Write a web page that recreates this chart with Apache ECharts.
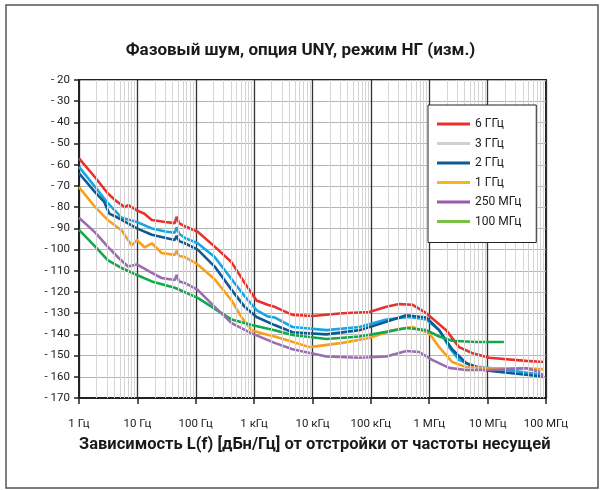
<!DOCTYPE html>
<html>
<head>
<meta charset="utf-8">
<script src="https://cdn.jsdelivr.net/npm/echarts@6/dist/echarts.min.js"></script>
<style>
html,body{margin:0;padding:0;background:#fff;}
#c{width:601px;height:490px;}
</style>
</head>
<body>
<div id="c"></div>
<script>
// ---- data (frequency in Hz, L(f) in dBc/Hz) ----
var seriesNames = ['6 ГГц', '3 ГГц', '2 ГГц', '1 ГГц', '250 МГц', '100 МГц'];
var xTickLabels = ['1 Гц', '10 Гц', '100 Гц', '1 кГц', '10 кГц', '100 кГц', '1 МГц', '10 МГц', '100 МГц'];

var data6G = [[1,-57],[1.9,-66],[3.1,-73.4],[4.3,-77],[6.1,-80],[7,-79],[9.8,-81.5],[13,-83],[17.7,-86],[30,-87],[43.7,-87.5],[47,-84.5],[52,-87.5],[65,-89],[108,-91.6],[211,-98.6],[412,-106],[688,-115.7],[1100,-124],[1700,-126],[2240,-127],[4550,-130.8],[10000,-131.3],[32600,-130],[94200,-129.4],[184000,-127],[307000,-125.7],[512000,-126],[889000,-130],[1.95e6,-138],[3.24e6,-146],[5.4e6,-148.8],[1.06e7,-151],[4.55e7,-152.5],[9.25e7,-153]];
var data3G = [[1,-61],[1.9,-70.5],[3.1,-78],[5.4,-85],[9.8,-87],[17.7,-90],[30,-91.5],[43.7,-92],[47,-89.5],[52,-92.5],[65,-94.5],[108,-97],[211,-103.5],[412,-114],[688,-122],[1100,-128.5],[1700,-131.5],[2240,-132],[4550,-136.5],[17350,-138],[63500,-136.5],[184000,-133],[455000,-131.8],[889000,-133],[1.48e6,-138],[2.19e6,-146],[3.24e6,-152],[5.43e6,-155],[1.19e7,-156],[4.55e7,-158],[9.25e7,-159]];
var data2G = [[1,-64],[1.9,-73],[2.7,-77.5],[3.3,-83],[4.3,-84.5],[5.4,-86],[9.8,-90],[17.7,-93],[43.7,-95.5],[47,-93.5],[52,-96],[65,-97],[108,-100],[211,-108],[412,-119],[688,-127],[1100,-131.8],[2240,-135.6],[4550,-139],[17350,-140],[63500,-138],[184000,-134],[404000,-131],[889000,-132],[1.48e6,-138],[2.46e6,-147],[4.27e6,-153.5],[9.4e6,-157],[4.55e7,-159],[9.25e7,-160]];
var data1G = [[1,-70.5],[1.9,-80],[3.1,-86],[5.4,-91],[8,-98],[9.8,-95.5],[13.4,-99],[17.7,-97],[26,-101.6],[43.7,-102.5],[47,-100.5],[52,-103],[65,-103.5],[108,-107],[211,-114],[412,-124],[611,-132],[906,-138],[1340,-139.5],[2240,-141],[3600,-142.6],[8900,-146],[32600,-144],[94200,-141.7],[233000,-138],[512000,-136.5],[1e6,-139.5],[1.48e6,-146],[2.46e6,-153],[4.27e6,-155.4],[1.19e7,-156],[4.55e7,-156],[9.25e7,-156.5]];
var data250M = [[1,-85],[1.9,-92],[3.1,-98.6],[4.6,-103.5],[6.9,-108],[9.8,-107],[17.7,-111],[26,-113.4],[43.7,-114.3],[47,-112],[52,-115],[65,-115.7],[108,-119],[211,-127],[412,-134.7],[906,-139.5],[2240,-144],[4550,-147],[17350,-150.4],[63500,-151],[184000,-150.4],[404000,-147.8],[674000,-148.3],[1.12e6,-152],[2.19e6,-155.8],[4.27e6,-156.8],[1.19e7,-156.8],[4.55e7,-156],[7.5e7,-157.5],[9.25e7,-160.5]];
var data100M = [[1,-90.7],[1.9,-98.6],[3.1,-105],[5.4,-108.7],[9.8,-112],[17.7,-115],[43.7,-118],[108,-122.8],[188,-127],[412,-133],[906,-135.6],[2240,-138],[4550,-140.3],[17350,-142.2],[63500,-141],[184000,-138.8],[404000,-137],[889000,-138],[1.48e6,-141],[2.46e6,-143],[6.3e6,-143.6],[1.9e7,-143.6]];

var lineColors   = ['#e8322b', '#16a6e2', '#0e5a92', '#f7a01d', '#9a6cb0', '#13a84b'];
var legendColors = ['#e8322b', '#d0d0d0', '#0e5a92', '#f8b51a', '#9b59b0', '#7cc242'];
var allData = [data6G, data3G, data2G, data1G, data250M, data100M];

// minor vertical grid positions (2..9 within each decade)
var minorLines = [];
for (var d = 0; d < 8; d++) {
  for (var m = 2; m <= 9; m++) minorLines.push({ xAxis: m * Math.pow(10, d) });
}

var FONT = "Roboto, 'Liberation Sans', sans-serif";
var chart = echarts.init(document.getElementById('c'), null, { renderer: 'canvas' });

var series = [{
  name: '_minor', type: 'line', data: [], z: 1, silent: true,
  markLine: {
    silent: true, symbol: ['none', 'none'], label: { show: false },
    lineStyle: { color: '#d4d4d4', width: 1, type: 'solid' },
    emphasis: { disabled: true },
    animation: false,
    data: minorLines
  }
}];
var drawOrder = [0, 1, 2, 3, 5, 4];
drawOrder.forEach(function (i) {
  series.push({
    name: seriesNames[i], type: 'line', data: allData[i], showSymbol: false, symbol: 'none',
    lineStyle: { color: lineColors[i], width: 2.6 }, itemStyle: { color: lineColors[i] },
    z: 3, animation: false
  });
});

chart.setOption({
  animation: false,
  backgroundColor: '#fff',
  title: {
    text: 'Фазовый шум, опция UNY, режим НГ (изм.)',
    left: 'center', top: 37,
    textStyle: { fontFamily: FONT, fontSize: 17, fontWeight: 'bold', color: '#1a1a1a' }
  },
  graphic: [
    { type: 'rect', shape: { x: 6, y: 5, width: 592, height: 483 }, style: { fill: 'none', stroke: '#555', lineWidth: 1.5 }, z: 0 },
    { type: 'text', left: 79, top: 436, style: { text: 'Зависимость L(f) [дБн/Гц] от отстройки от частоты несущей', font: "bold 16.5px " + FONT, fill: '#1a1a1a' } }
  ],
  legend: {
    orient: 'vertical', left: 428, top: 105,
    data: seriesNames.map(function (n, i) { return { name: n, icon: 'rect', itemStyle: { color: legendColors[i] } }; }),
    itemWidth: 33, itemHeight: 3, itemGap: 7.5,
    padding: [13, 15, 15, 9],
    backgroundColor: '#fff', borderColor: '#222', borderWidth: 1, borderRadius: 0,
    textStyle: { fontFamily: FONT, fontSize: 12, color: '#222' },
    selectedMode: false, z: 10
  },
  grid: { left: 79, right: 55, top: 80, bottom: 92, show: true, borderColor: '#222', borderWidth: 2, backgroundColor: 'transparent' },
  xAxis: {
    type: 'log', logBase: 10, min: 1, max: 1e8, splitNumber: 8,
    axisLine: { show: true, lineStyle: { color: '#222', width: 2 } },
    axisTick: { show: true, length: 6, lineStyle: { color: '#222', width: 1.5 } },
    axisLabel: {
      margin: 20, fontFamily: FONT, fontSize: 11.5, color: '#222',
      formatter: function (v) { return xTickLabels[Math.round(Math.log10(v))] || ''; }
    },
    splitLine: { show: true, lineStyle: { color: '#333', width: 1.3 } },
    minorTick: { show: false }
  },
  yAxis: {
    type: 'value', min: -170, max: -20, interval: 10,
    axisLine: { show: true, lineStyle: { color: '#222', width: 2 } },
    axisTick: { show: true, length: 5, lineStyle: { color: '#222', width: 1.5 } },
    axisLabel: {
      margin: 9, fontFamily: FONT, fontSize: 11.5, color: '#222',
      formatter: function (v) { return '- ' + Math.abs(v); }
    },
    splitLine: { show: true, lineStyle: { color: '#b4b4b4', width: 1 } }
  },
  series: series
});
</script>
</body>
</html>
